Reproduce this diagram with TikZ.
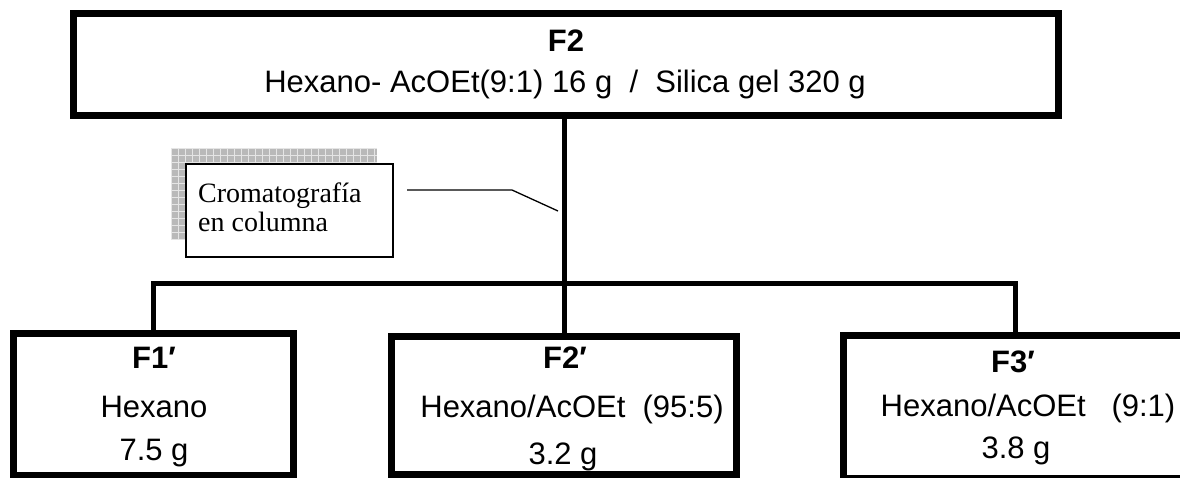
\documentclass[tikz,border=0pt]{standalone}
\usepackage{fontspec}
\setmainfont{Liberation Sans}
\newfontfamily\serifcall{Liberation Serif}
\begin{document}
\begin{tikzpicture}[x=1pt,y=-1pt,
  box/.style={draw=black,line width=7pt,fill=white,inner sep=0pt},
  conn/.style={draw=black,line width=5pt},
  lbl/.style={anchor=base,inner sep=0pt,font=\fontsize{31}{37}\selectfont},
  blbl/.style={lbl,font=\fontsize{31}{37}\selectfont\bfseries},
  callbox/.style={draw=black,line width=1.2pt,fill=white,inner sep=0pt},
  callline/.style={draw=black,line width=1.3pt},
  gridline/.style={draw=gray!20,line width=0.9pt},
  calltxt/.style={anchor=base west,inner sep=0pt,font=\serifcall\fontsize{28}{29}\selectfont}]
\useasboundingbox (0,0) rectangle (1180,477);
\clip (0,0) rectangle (1180,477);
\fill[white] (0,0) rectangle (1180,477);
\coordinate (jL) at (153,283);
\coordinate (jM) at (564,283);
\coordinate (jR) at (1015,283);
% boxes
\node[box,minimum width=985.5pt,minimum height=102pt] (top) at (566,64.5) {};
\node[box,minimum width=280pt,minimum height=141.5pt] (f1) at (153.5,404.25) {};
\node[box,minimum width=345pt,minimum height=138pt] (f2) at (563.5,405) {};
\node[box,minimum width=357pt,minimum height=143pt] (f3) at (1021.5,406.5) {};
\draw[conn] (jM |- top.south) -- (jM) -- (jM |- f2.north);
\draw[conn,line join=miter] (jL |- f1.north) -- (jL) -- (jR) -- (jR |- f3.north);
% top texts
\node[blbl] (t0) at (566,51) {F2};
\node[lbl] (t1) at (565,92) {Hexano- AcOEt(9:1) 16 g \ / \ Silica gel 320 g};
% F1'
\node[blbl] (a0) at (154,368) {F1′};
\node[lbl] (a1) at (154,417) {Hexano};
\node[lbl] (a2) at (154,460) {7.5 g};
% F2'
\node[blbl] (b0) at (565,368) {F2′};
\node[lbl] (b1) at (572,417) {Hexano/AcOEt \ (95:5)};
\node[lbl] (b2) at (563,464) {3.2 g};
% F3'
\node[blbl] (c0) at (1013,372) {F3′};
\node[lbl] (c1) at (1028,416) {Hexano/AcOEt \ \ (9:1)};
\node[lbl] (c2) at (1016,458) {3.8 g};
% callout shadow with grid
\fill[gray!55] (171,148) rectangle (377,240);
\foreach \gx in {171,178,...,377} {\draw[gridline] (\gx,148) -- (\gx,240);}
\foreach \gy in {148,155,...,240} {\draw[gridline] (171,\gy) -- (377,\gy);}
\node[callbox,minimum width=207pt,minimum height=93pt] (call) at (289.5,210.5) {};
\node[calltxt] (ct1) at (198,202) {Cromatografía};
\node[calltxt] (ct2) at (198,231) {en columna};
\coordinate (k1) at (407,190);
\coordinate (k2) at (512,190);
\coordinate (k3) at (558,211);
\draw[callline] (k1) -- (k2) -- (k3);
\end{tikzpicture}
\end{document}
